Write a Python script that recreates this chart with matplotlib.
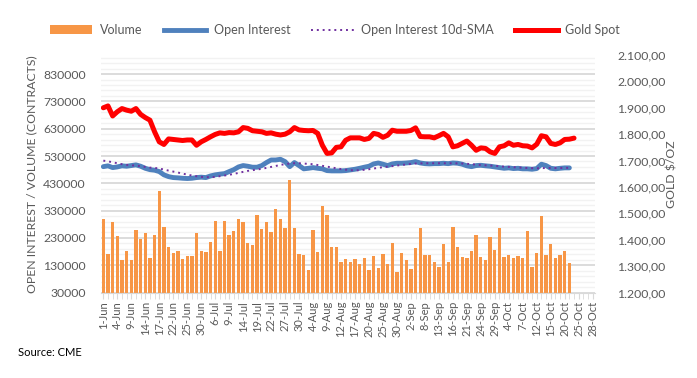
import matplotlib
matplotlib.use("Agg")
import matplotlib.pyplot as plt
import pandas as pd
from matplotlib.ticker import FuncFormatter, MultipleLocator, FixedLocator
from matplotlib.patches import Patch
from matplotlib.lines import Line2D

plt.rcParams['font.family'] = ['Lato', 'DejaVu Sans']

# trading days 1-Jun .. 28-Oct 2021 (US holidays out)
days = pd.bdate_range('2021-06-01', '2021-10-28', freq='C',
                      holidays=['2021-07-05', '2021-09-06'])
day_labels = [f"{d.day}-{d.strftime('%b')}" for d in days]

volume = [299000, 171000, 289000, 236000, 149000, 182000, 149000, 258000, 226000, 247000,
          156000, 240000, 401000, 269000, 196000, 174000, 182000, 152000, 163000, 163000,
          247000, 182000, 178000, 215000, 292000, 182000, 292000, 240000, 255000, 299000,
          288000, 211000, 204000, 313000, 262000, 288000, 251000, 335000, 299000, 266000,
          441000, 266000, 171000, 167000, 112000, 258000, 178000, 346000, 313000, 196000,
          196000, 140000, 152000, 140000, 152000, 136000, 156000, 112000, 163000, 119000,
          171000, 136000, 211000, 105000, 174000, 149000, 116000, 193000, 266000, 167000,
          167000, 141000, 123000, 207000, 141000, 269000, 196000, 160000, 156000, 182000,
          240000, 160000, 149000, 234000, 185000, 266000, 160000, 167000, 156000, 163000,
          156000, 255000, 123000, 174000, 310000, 167000, 207000, 156000, 167000, 182000,
          138000]

open_interest = [491000, 494000, 487500, 490000, 494000, 492500, 495000, 497500, 492500, 485000,
                 480000, 478000, 473000, 461000, 454500, 451000, 450000, 448500, 447500, 448500,
                 451000, 452500, 451000, 457000, 461000, 463500, 465500, 473000, 480000, 490000,
                 495000, 492500, 489000, 489000, 495000, 506000, 515500, 515500, 518000, 509500,
                 491000, 506000, 495000, 483000, 485000, 487500, 485000, 483000, 476500, 475500,
                 475500, 475500, 476500, 479000, 481500, 485000, 489000, 492500, 501000, 504500,
                 500000, 495000, 501000, 503500, 503500, 504500, 506000, 509500, 504500, 502000,
                 501000, 502000, 502000, 503500, 502000, 504500, 503500, 500000, 494000, 491000,
                 495000, 496000, 494000, 492500, 490000, 487500, 485000, 486500, 484000, 485000,
                 483000, 483000, 481500, 484000, 500000, 495000, 485000, 483000, 485000, 486500,
                 486500]

oi_sma = [513000, 510500, 507000, 503500, 500000, 497500, 496000, 495000, 492500, 490000,
          487500, 486500, 484000, 480500, 476500, 473000, 469500, 465500, 462000, 458500,
          456000, 453500, 452500, 452500, 453500, 456000, 458500, 461000, 464500, 468000,
          472000, 475500, 478000, 480500, 483000, 486500, 490000, 493500, 497500, 500000,
          502500, 503500, 503500, 502500, 501000, 500000, 497000, 494000, 491000, 488000,
          485000, 482000, 480000, 478000, 477500, 478000, 479500, 481500, 484000, 487000,
          489000, 491000, 493000, 495000, 497000, 499000, 501000, 502500, 503000, 503500,
          503500, 503500, 503500, 503500, 503500, 503500, 503000, 502500, 501500, 500000,
          498500, 497000, 496000, 495000, 494000, 492500, 491000, 490000, 489000, 488000,
          487000, 486000, 485500, 485000, 485500, 486000, 486000, 486000, 486000, 486500,
          486500]

gold = [1900, 1907, 1869, 1885, 1897, 1891, 1887, 1897, 1875, 1863,
        1853, 1809, 1771, 1761, 1782, 1780, 1778, 1776, 1778, 1778,
        1758, 1771, 1780, 1790, 1799, 1805, 1803, 1806, 1805, 1809,
        1825, 1822, 1813, 1811, 1809, 1803, 1805, 1800, 1797, 1800,
        1809, 1825, 1816, 1814, 1813, 1814, 1803, 1758, 1727, 1729,
        1750, 1752, 1777, 1786, 1786, 1786, 1780, 1784, 1803, 1799,
        1788, 1796, 1815, 1811, 1811, 1811, 1814, 1824, 1791, 1790,
        1790, 1786, 1794, 1803, 1790, 1752, 1756, 1765, 1774, 1758,
        1739, 1748, 1746, 1733, 1727, 1752, 1756, 1767, 1758, 1761,
        1756, 1755, 1748, 1762, 1794, 1790, 1765, 1761, 1767, 1780,
        1781, 1785]

grey = '#595959'
orange = '#F79646'
blue = '#4F81BD'
purple = '#7030A0'

fig = plt.figure(figsize=(6.97, 3.78), dpi=100)
ax = fig.add_axes([101 / 697, 1 - 292.5 / 378, 494 / 697, 237.5 / 378])
ax2 = ax.twinx()

ax.bar(range(len(volume)), volume, width=0.72, color=orange, zorder=2)
ax.plot(range(len(open_interest)), open_interest, color=blue, lw=3.5, zorder=3,
        solid_capstyle='round', solid_joinstyle='round')
ax.plot(range(len(oi_sma)), oi_sma, color=purple, lw=1.4, ls=(0, (1, 2)), zorder=4)
ax2.plot(range(len(gold)), gold, color='#FF0000', lw=3.6, zorder=5,
         solid_capstyle='round', solid_joinstyle='round')

ax.set_xlim(-0.5, len(days) - 0.5)
ax.set_ylim(30000, 900000)
ax2.set_ylim(1200, 2100)

ax.yaxis.set_major_locator(FixedLocator(range(30000, 900000, 100000)))
ax.yaxis.set_minor_locator(FixedLocator(range(30000, 900000, 20000)))
ax.grid(axis='y', which='major', color='#D9D9D9', lw=1.3, zorder=0)
ax.grid(axis='y', which='minor', color='#F2F2F2', lw=1.0, zorder=0)
ax.set_axisbelow(True)
ax2.yaxis.set_major_locator(MultipleLocator(100))
ax2.yaxis.set_major_formatter(FuncFormatter(
    lambda v, p: f"{v:,.2f}".replace(',', 'X').replace('.', ',').replace('X', '.')))

ax.set_xticks(range(0, len(days), 3))
ax.set_xticklabels(day_labels[::3], rotation=90)
ax.set_xticks(range(len(days)), minor=True)

for a in (ax, ax2):
    for s in a.spines.values():
        s.set_visible(False)
ax.spines['bottom'].set_visible(True)
ax.spines['bottom'].set_color('#D9D9D9')

ax.tick_params(axis='y', which='both', length=0, pad=11, labelsize=8.8, labelcolor=grey)
ax2.tick_params(axis='y', length=0, pad=16, labelsize=8.8, labelcolor=grey)
ax.tick_params(axis='x', which='both', length=4, color='#D9D9D9', pad=2,
               labelsize=8, labelcolor=grey)

ax.set_ylabel('OPEN INTEREST / VOLUME (CONTRACTS)', fontsize=8.8, color=grey, labelpad=4)
ax2.set_ylabel('GOLD $/OZ', fontsize=8.8, color=grey, labelpad=1)

handles = [Patch(facecolor=orange),
           Line2D([], [], color=blue, lw=3.5),
           Line2D([], [], color=purple, lw=1.4, ls=(0, (1, 2))),
           Line2D([], [], color='#FF0000', lw=3.6)]
names = ['Volume', 'Open Interest', 'Open Interest 10d-SMA', 'Gold Spot']
fig.legend(handles, names, loc='center', bbox_to_anchor=(335 / 697, 1 - 30 / 378),
           ncol=4, frameon=False, fontsize=9, handlelength=3.4, handleheight=0.7,
           columnspacing=1.7, handletextpad=0.6, labelcolor=grey)

fig.text(18 / 697, 1 - 353 / 378, 'Source: CME', fontsize=8, va='center')

fig.savefig('out.png', dpi=100)
